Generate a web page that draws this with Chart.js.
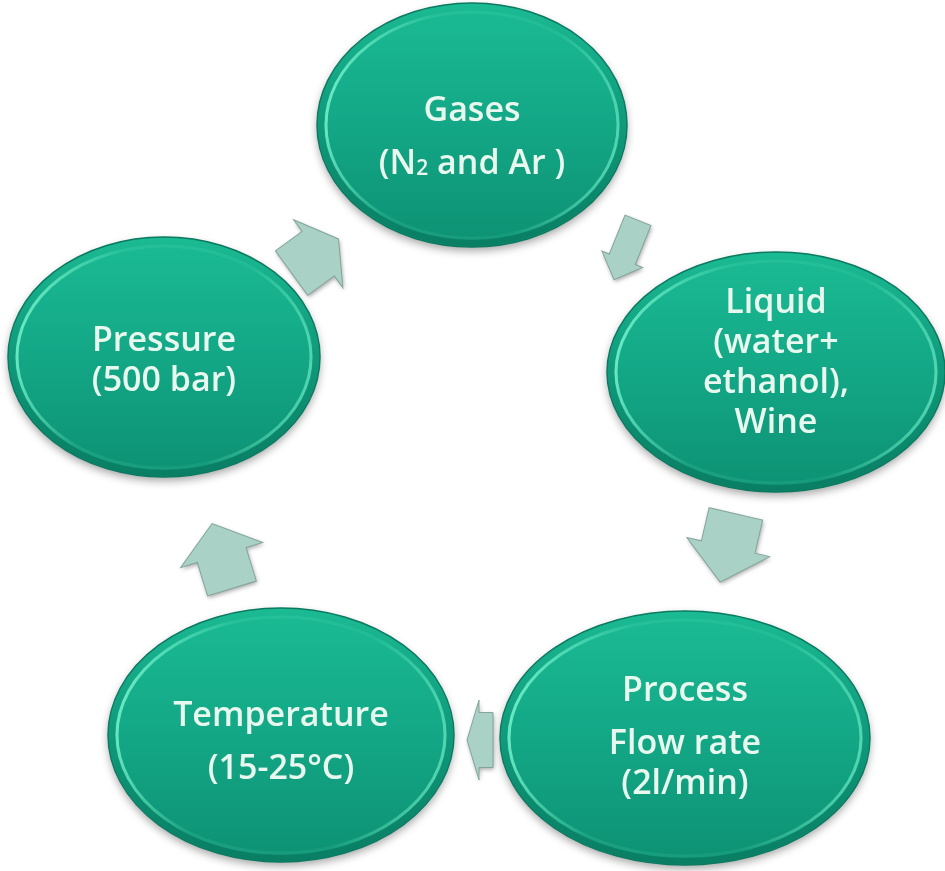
<!DOCTYPE html>
<html>
<head>
<meta charset="utf-8">
<script src="https://cdn.jsdelivr.net/npm/chart.js@4.4.1/dist/chart.umd.min.js"></script>
<style>
  html, body { margin: 0; padding: 0; background: #ffffff; }
  #wrap { width: 945px; height: 871px; position: relative; }
</style>
</head>
<body>
<div id="wrap"><canvas id="cycle"></canvas></div>
<script>
// ── DATA ──────────────────────────────────────────────────────────────────────

// each stage of the cycle, '' = paragraph gap, _2 = subscript 2
const NODE_LABELS = [
  ['Gases', '', '(N_2 and Ar )'],
  ['Liquid', '(water+', 'ethanol),', 'Wine'],
  ['Process', '', 'Flow rate', '(2l/min)'],
  ['Temperature', '', '(15-25°C)'],
  ['Pressure', '(500 bar)'],
];
const NODE_X  = [472, 776, 685, 281, 164];
const NODE_Y  = [125, 372, 738, 735, 357];
const NODE_RX = [155, 169, 185, 173, 156];
const NODE_RY = [122, 120, 127, 127, 120];

// connector arrows between stages (direction in degrees, 0 = pointing right)
const ARROW_X     = [315, 626, 728, 480, 222];
const ARROW_Y     = [256, 250, 548, 740, 556];
const ARROW_ANGLE = [-36, 112, 103, 180, -107];

// ── STYLE ─────────────────────────────────────────────────────────────────────

const ARROW_SHAPES = [
  { len: 58, tail: 55, head: 84, headLen: 25 },
  { len: 64, tail: 28, head: 44, headLen: 22 },
  { len: 70, tail: 55, head: 85, headLen: 36 },
  { len: 26, tail: 55, head: 80, headLen: 12 },
  { len: 68, tail: 51, head: 86, headLen: 33 },
];
const TEXT_DY = [13, -9, 0, 8, 4];
const FONT = '"Open Sans", "Noto Sans", sans-serif';
const FONT_SIZE = 34;
const LINE_H = 40;
const GAP_H = 13;

// ── DRAWING ───────────────────────────────────────────────────────────────────

function drawRich(ctx, text, cx, cy) {
  const parts = text.split(/_(\d)/);
  const big = `600 ${FONT_SIZE}px ${FONT}`;
  const small = `600 ${Math.round(FONT_SIZE * 0.62)}px ${FONT}`;
  let total = 0;
  parts.forEach((p, i) => {
    ctx.font = i % 2 ? small : big;
    total += ctx.measureText(p).width;
  });
  let x = cx - total / 2;
  ctx.textAlign = 'left';
  parts.forEach((p, i) => {
    ctx.font = i % 2 ? small : big;
    ctx.fillText(p, x, i % 2 ? cy + 5 : cy);
    x += ctx.measureText(p).width;
  });
}

function drawNode(ctx, x, y, rx, ry, lines, dy) {
  ctx.save();
  // body with drop shadow
  ctx.shadowColor = 'rgba(0,0,0,0.35)';
  ctx.shadowBlur = 8;
  ctx.shadowOffsetY = 4;
  const g = ctx.createLinearGradient(x, y - ry, x, y + ry);
  g.addColorStop(0, '#1bbb94');
  g.addColorStop(0.5, '#13a786');
  g.addColorStop(1, '#0d9173');
  ctx.fillStyle = g;
  ctx.beginPath();
  ctx.ellipse(x, y, rx, ry, 0, 0, Math.PI * 2);
  ctx.fill();
  ctx.restore();

  ctx.save();
  ctx.lineWidth = 1.5;
  ctx.strokeStyle = '#0b7a60';
  ctx.beginPath();
  ctx.ellipse(x, y, rx, ry, 0, 0, Math.PI * 2);
  ctx.stroke();

  // bevel highlight ring
  const hl = ctx.createLinearGradient(x - rx, y - ry * 0.3, x + rx, y + ry * 0.3);
  hl.addColorStop(0, 'rgba(120,245,205,0.95)');
  hl.addColorStop(0.3, 'rgba(120,245,205,0.12)');
  hl.addColorStop(0.7, 'rgba(120,245,205,0.08)');
  hl.addColorStop(1, 'rgba(120,245,205,0.7)');
  ctx.lineWidth = 3;
  ctx.strokeStyle = hl;
  ctx.beginPath();
  ctx.ellipse(x, y, rx - 9, ry - 9, 0, 0, Math.PI * 2);
  ctx.stroke();

  const dk = ctx.createLinearGradient(x, y - ry, x, y + ry);
  dk.addColorStop(0, 'rgba(0,90,70,0.0)');
  dk.addColorStop(1, 'rgba(0,90,70,0.35)');
  ctx.lineWidth = 6;
  ctx.strokeStyle = dk;
  ctx.beginPath();
  ctx.ellipse(x, y, rx - 4, ry - 4, 0, 0, Math.PI * 2);
  ctx.stroke();

  // label
  ctx.fillStyle = '#e9f8ef';
  ctx.textBaseline = 'middle';
  const heights = lines.map(l => (l === '' ? GAP_H : LINE_H));
  let ty = y + dy - heights.reduce((a, b) => a + b, 0) / 2;
  lines.forEach((l, i) => {
    if (l !== '') drawRich(ctx, l, x, ty + heights[i] / 2);
    ty += heights[i];
  });
  ctx.restore();
}

function drawArrow(ctx, x, y, angleDeg, s) {
  const L = s.len / 2, b = L - s.headLen;
  ctx.save();
  ctx.translate(x, y);
  ctx.rotate(angleDeg * Math.PI / 180);
  ctx.beginPath();
  ctx.moveTo(-L, -s.tail / 2);
  ctx.lineTo(b, -s.tail / 2);
  ctx.lineTo(b, -s.head / 2);
  ctx.lineTo(L, 0);
  ctx.lineTo(b, s.head / 2);
  ctx.lineTo(b, s.tail / 2);
  ctx.lineTo(-L, s.tail / 2);
  ctx.closePath();
  ctx.shadowColor = 'rgba(0,0,0,0.35)';
  ctx.shadowBlur = 4;
  ctx.shadowOffsetX = 1;
  ctx.shadowOffsetY = 2;
  ctx.fillStyle = '#a9d1c5';
  ctx.fill();
  ctx.shadowColor = 'transparent';
  ctx.lineWidth = 1;
  ctx.strokeStyle = 'rgba(125,160,150,0.9)';
  ctx.stroke();
  ctx.restore();
}

const cyclePlugin = {
  id: 'cycleShapes',
  afterDatasetsDraw(chart) {
    const ctx = chart.ctx;
    const xs = chart.scales.x, ys = chart.scales.y;
    chart.getDatasetMeta(0).data.forEach((pt, i) => {
      const rx = Math.abs(xs.getPixelForValue(NODE_X[i] + NODE_RX[i]) - pt.x);
      const ry = Math.abs(ys.getPixelForValue(NODE_Y[i] + NODE_RY[i]) - pt.y);
      drawNode(ctx, pt.x, pt.y, rx, ry, NODE_LABELS[i], TEXT_DY[i]);
    });
    chart.getDatasetMeta(1).data.forEach((pt, i) => {
      drawArrow(ctx, pt.x, pt.y, ARROW_ANGLE[i], ARROW_SHAPES[i]);
    });
  },
};

// ── CHART ─────────────────────────────────────────────────────────────────────

new Chart(document.getElementById('cycle').getContext('2d'), {
  type: 'scatter',
  data: {
    datasets: [
      { label: 'stages', data: NODE_X.map((x, i) => ({ x, y: NODE_Y[i] })), pointRadius: 0 },
      { label: 'arrows', data: ARROW_X.map((x, i) => ({ x, y: ARROW_Y[i] })), pointRadius: 0 },
    ],
  },
  options: {
    responsive: true,
    maintainAspectRatio: false,
    animation: false,
    layout: { padding: 0 },
    plugins: { legend: { display: false }, tooltip: { enabled: false } },
    events: [],
    scales: {
      x: { type: 'linear', min: 0, max: 945, display: false },
      y: { type: 'linear', min: 0, max: 871, reverse: true, display: false },
    },
  },
  plugins: [cyclePlugin],
});
</script>
</body>
</html>
